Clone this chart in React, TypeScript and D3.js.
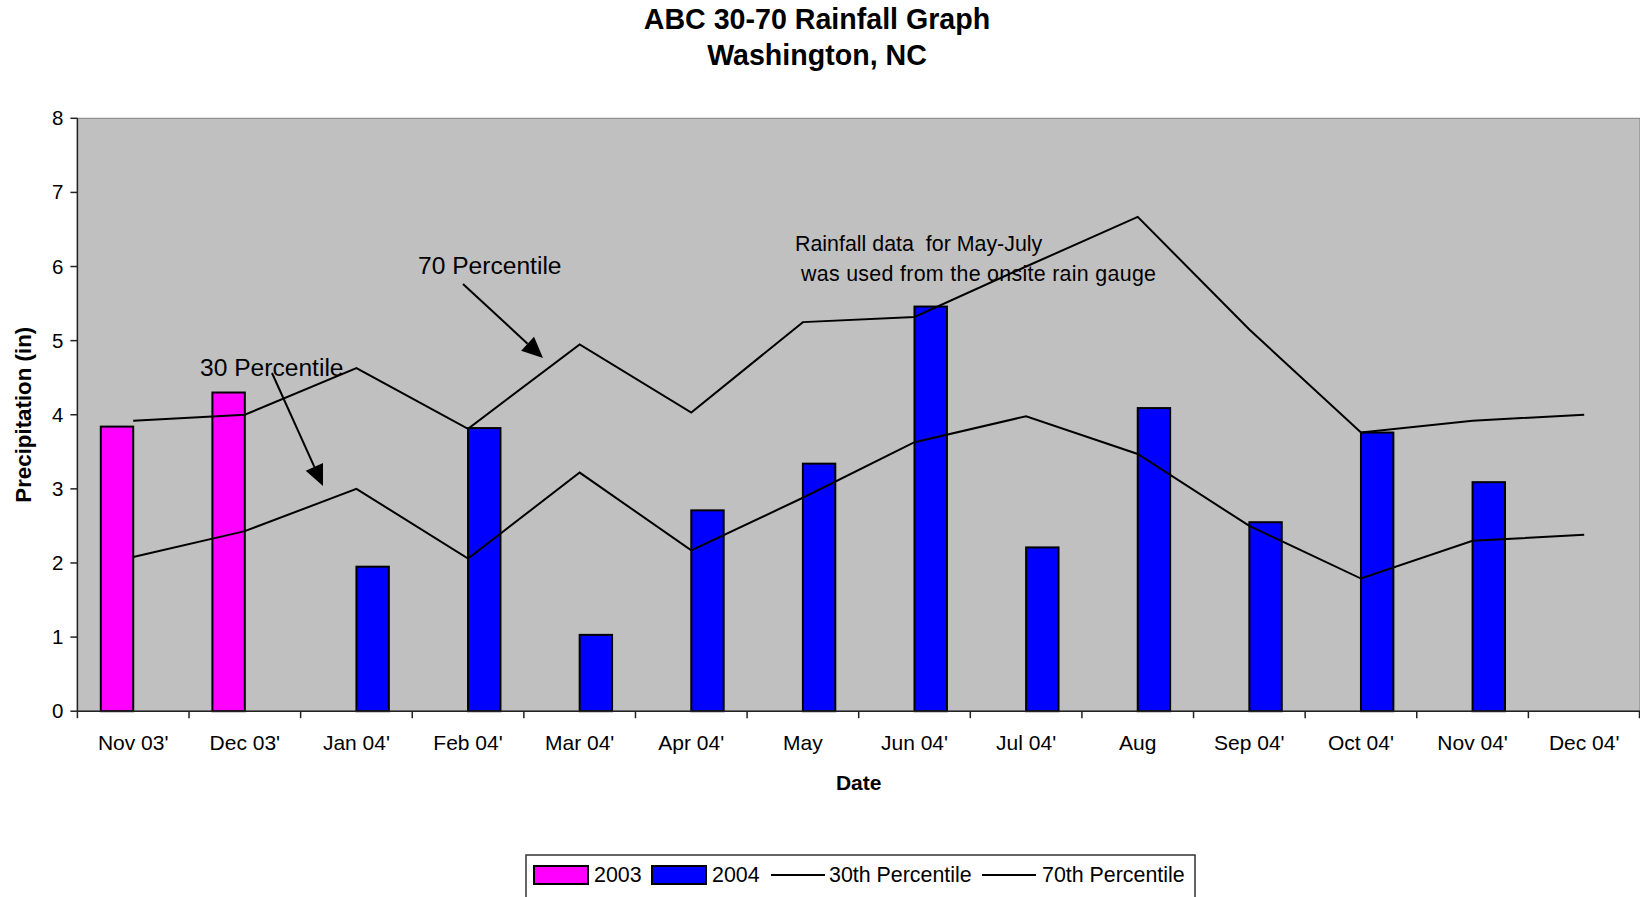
import React from "react";
import * as d3 from "d3";

const months = ["Nov 03'", "Dec 03'", "Jan 04'", "Feb 04'", "Mar 04'", "Apr 04'", "May", "Jun 04'", "Jul 04'", "Aug", "Sep 04'", "Oct 04'", "Nov 04'", "Dec 04'"];
const series = ["2003", "2004"];
const rain2003 = [3.84, 4.3, null, null, null, null, null, null, null, null, null, null, null, null];
const rain2004 = [null, null, 1.95, 3.82, 1.03, 2.71, 3.34, 5.46, 2.21, 4.09, 2.55, 3.76, 3.09, null];
const pct30 = [2.08, 2.43, 3.0, 2.06, 3.22, 2.17, 2.88, 3.63, 3.98, 3.47, 2.5, 1.79, 2.3, 2.38];
const pct70 = [3.92, 4.0, 4.63, 3.81, 4.95, 4.03, 5.25, 5.32, 6.0, 6.67, 5.15, 3.76, 3.92, 4.0];
const yTicks = [0, 1, 2, 3, 4, 5, 6, 7, 8];
const legendItems = ["2003", "2004", "30th Percentile", "70th Percentile"];

const W = 1640, H = 897;
const font = "'Liberation Sans', Arial, sans-serif";
const colors = { "2003": "#FF00FF", "2004": "#0000FF" };

export default function App() {
  const left = 77.4, right = 1640, top = 118.3, bottom = 711.2;
  const x = d3.scaleBand().domain(months).range([left, right]).padding(0);
  const xs = d3.scaleBand().domain(series).range([0, x.bandwidth()]).paddingInner(0).paddingOuter(0.722);
  const y = d3.scaleLinear().domain([0, 8]).range([bottom, top]);
  const cx = (m) => x(m) + x.bandwidth() / 2;

  const line = d3.line<number>().x((d, i) => cx(months[i])).y((d) => y(d));

  const bars = [];
  [rain2003, rain2004].forEach((vals, si) => {
    vals.forEach((v, i) => {
      if (v == null) return;
      const s = series[si];
      bars.push(
        <rect key={s + i} x={x(months[i]) + xs(s)} y={y(v)} width={xs.bandwidth()} height={y(0) - y(v)}
          fill={colors[s]} stroke="#000" strokeWidth={2} />
      );
    });
  });

  const arrow = (x1, y1, x2, y2) => {
    const a = Math.atan2(y2 - y1, x2 - x1);
    const len = 21, hw = 9.5;
    const bx = x2 - len * Math.cos(a), by = y2 - len * Math.sin(a);
    const px = -Math.sin(a) * hw, py = Math.cos(a) * hw;
    return (
      <g>
        <line x1={x1} y1={y1} x2={bx} y2={by} stroke="#000" strokeWidth={2} />
        <path d={`M${x2},${y2}L${bx + px},${by + py}L${bx - px},${by - py}Z`} fill="#000" />
      </g>
    );
  };

  const legX = [534, 652, 771, 982];
  const legTextX = [594, 712, 829, 1042];

  return (
    <svg width={W} height={H} style={{ position: "absolute", left: 0, top: 0, background: "#fff" }} fontFamily={font}>
      <text x={817} y={29} textAnchor="middle" fontSize={28.6} fontWeight="bold">ABC 30-70 Rainfall Graph</text>
      <text x={817} y={65} textAnchor="middle" fontSize={28.6} fontWeight="bold">Washington, NC</text>

      <rect x={left} y={top} width={right - left} height={bottom - top} fill="#C0C0C0" stroke="#808080" strokeWidth={1} />

      {bars}

      <path d={line(pct30)} fill="none" stroke="#000" strokeWidth={2} />
      <path d={line(pct70)} fill="none" stroke="#000" strokeWidth={2} />

      <line x1={left} y1={top} x2={left} y2={bottom} stroke="#222" strokeWidth={1.5} />
      <line x1={left} y1={bottom} x2={right} y2={bottom} stroke="#222" strokeWidth={1.5} />
      {yTicks.map((t) => (
        <g key={t}>
          <line x1={left - 7} x2={left} y1={y(t)} y2={y(t)} stroke="#222" strokeWidth={1.5} />
          <text x={left - 14} y={y(t) + 7} textAnchor="end" fontSize={20.5}>{t}</text>
        </g>
      ))}
      {months.map((m) => (
        <g key={m}>
          <line x1={x(m)} x2={x(m)} y1={bottom} y2={bottom + 7} stroke="#222" strokeWidth={1.5} />
          <text x={cx(m)} y={750} textAnchor="middle" fontSize={21}>{m}</text>
        </g>
      ))}
      <line x1={right - 0.5} x2={right - 0.5} y1={bottom} y2={bottom + 7} stroke="#222" strokeWidth={1.5} />

      <text x={(left + right) / 2} y={790} textAnchor="middle" fontSize={21} fontWeight="bold">Date</text>
      <text transform={`translate(31,${(top + bottom) / 2}) rotate(-90)`} textAnchor="middle" fontSize={22.3} fontWeight="bold">Precipitation (in)</text>

      <text x={418} y={274} fontSize={24.6}>70 Percentile</text>
      {arrow(463, 284, 543, 358)}
      <text x={200} y={376} fontSize={24.6}>30 Percentile</text>
      {arrow(272, 373, 323, 486)}
      <text x={795} y={251} fontSize={21.4} style={{ whiteSpace: "pre" }}>Rainfall data  for May-July</text>
      <text x={801} y={281} fontSize={21.4} textLength={355} lengthAdjust="spacing">was used from the onsite rain gauge</text>

      <rect x={526} y={855} width={669} height={60} fill="#fff" stroke="#333" strokeWidth={1.5} />
      {legendItems.map((it, i) =>
        i < 2 ? (
          <g key={it}>
            <rect x={legX[i]} y={866} width={54} height={18} fill={colors[it]} stroke="#000" strokeWidth={2} />
            <text x={legTextX[i]} y={882} fontSize={21.4}>{it}</text>
          </g>
        ) : (
          <g key={it}>
            <line x1={legX[i]} x2={legX[i] + 54} y1={875} y2={875} stroke="#000" strokeWidth={2} />
            <text x={legTextX[i]} y={882} fontSize={21.4}>{it}</text>
          </g>
        )
      )}
    </svg>
  );
}
